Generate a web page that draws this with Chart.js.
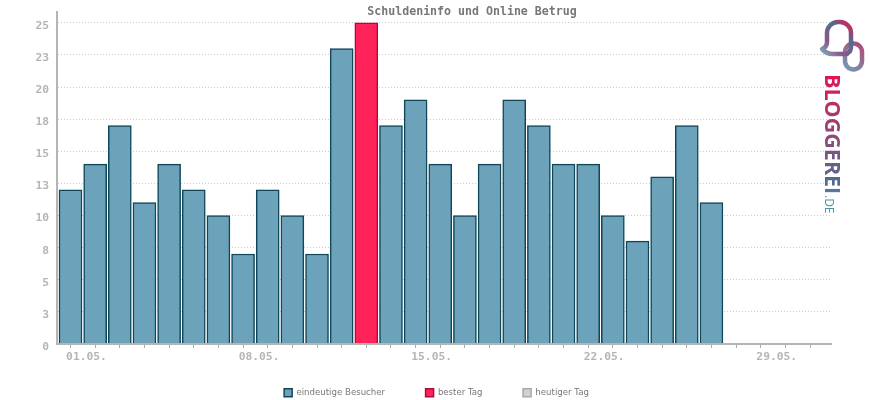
<!DOCTYPE html>
<html><head><meta charset="utf-8">
<style>html,body{margin:0;padding:0;background:#fff}canvas{display:block}</style>
<script src="https://cdn.jsdelivr.net/npm/chart.js@4"></script>
</head><body><canvas id="c" width="870" height="400"></canvas>
<script>
const titleText = "Schuldeninfo und Online Betrug";
const days = [1,2,3,4,5,6,7,8,9,10,11,12,13,14,15,16,17,18,19,20,21,22,23,24,25,26,27];
const visitors = [12,14,17,11,14,12,10,7,12,10,7,23,25,17,19,14,10,14,19,17,14,14,10,8,13,17,11];
const bestDay = 13;
const xTickDays = [1,2,3,4,5,6,7,8,9,10,11,12,13,14,15,16,17,18,19,20,21,22,23,24,25,26,27,28,29,30,31];
const xTickLabels = {1:"01.05.",8:"08.05.",15:"15.05.",22:"22.05.",29:"29.05."};
const yTicks = [0,2.5,5,7.5,10,12.5,15,17.5,20,22.5,25];
const yTickLabels = ["0","3","5","8","10","13","15","18","20","23","25"];
const legendNames = ["eindeutige Besucher","bester Tag","heutiger Tag"];
const MONO = '"DejaVu Sans Mono", monospace';

const points = days.map((d,i)=>({x:d,y:visitors[i]}));

const shiftBlocks = {
  id:'shiftBlocks',
  afterLayout(chart){
    chart.titleBlock.left += 56.5; chart.titleBlock.right += 56.5;
    chart.scales.x.bottom = 375;
    const l = chart.legend;
    l.left += 21; l.right += 21; l.top += 3; l.bottom += 3;
  }
};
const logo = {
  id:'logo',
  afterDraw(chart){
    const c = chart.ctx; c.save();
    let g = c.createLinearGradient(821,55,852,20);
    g.addColorStop(0,'#7db3c8'); g.addColorStop(0.3,'#8a5a86'); g.addColorStop(0.65,'#4f6d90'); g.addColorStop(1,'#ff0a47');
    c.lineWidth = 4.5; c.lineCap='round'; c.lineJoin='round';
    let r = c.createLinearGradient(843,70,863,45);
    r.addColorStop(0,'#6d9fb8'); r.addColorStop(1,'#b04a78');
    c.strokeStyle = r; c.beginPath(); c.roundRect(845,43.5,17,26,8.5); c.stroke();
    c.strokeStyle = g; c.beginPath();
    c.moveTo(848,53); c.quadraticCurveTo(851,51,851,47); c.lineTo(851,33);
    c.arcTo(851,22,840,22,11); c.arcTo(827,22,827,33,11);
    c.lineTo(827,42); c.quadraticCurveTo(827,47,822,49);
    c.quadraticCurveTo(826,54,833,54); c.lineTo(847,54); c.stroke();
    c.translate(824,74); c.rotate(Math.PI/2); c.textBaseline='alphabetic';
    let t = c.createLinearGradient(0,0,137,0);
    t.addColorStop(0,'#e8124f'); t.addColorStop(0.45,'#8f4a78'); t.addColorStop(0.8,'#4f6d90'); t.addColorStop(1,'#5f9ab8');
    c.fillStyle = t; c.font='bold 21.5px "Open Sans"';
    c.fillText('BLOGGEREI',0,-1);
    c.fillStyle='#4a90b0'; c.font='12px "Open Sans"';
    c.fillText('.DE',121,-1);
    c.restore();
  }
};

new Chart(document.getElementById('c'),{
  type:'bar',
  data:{datasets:[
    {label:legendNames[0],data:points.filter(p=>p.x!==bestDay),backgroundColor:'#6ca3bb',borderColor:'#0f4658',borderWidth:1.5},
    {label:legendNames[1],data:points.filter(p=>p.x===bestDay),backgroundColor:'#ff2359',borderColor:'#b2073b',borderWidth:1.5},
    {label:legendNames[2],data:[],backgroundColor:'#d2d2d2',borderColor:'#a8a8a8',borderWidth:1.5}
  ]},
  plugins:[shiftBlocks,logo],
  options:{
    responsive:false,animation:false,devicePixelRatio:1,
    layout:{padding:{left:0,right:39,top:0,bottom:-4}},
    datasets:{bar:{barThickness:23}},
    plugins:{
      tooltip:{enabled:false},
      title:{display:true,text:titleText,color:'#777',font:{family:MONO,size:11.6,weight:'bold'},padding:{top:5,bottom:-7}},
      legend:{position:'bottom',onClick:null,labels:{boxWidth:8,boxHeight:8,padding:40.5,color:'#777',font:{family:'"DejaVu Sans"',size:8.6}}}
    },
    scales:{
      x:{type:'linear',offset:false,stacked:true,min:0.452,max:31.85,
        afterFit(s){s.height=1;s.paddingLeft=0;s.paddingRight=0;s.paddingTop=0;s.paddingBottom=0;},
        afterBuildTicks(s){s.ticks=xTickDays.map(v=>({value:v}));},
        grid:{offset:false,drawOnChartArea:false,drawTicks:true,tickLength:4,tickColor:'#aaa',lineWidth:1},
        border:{color:'#b5b5b5',width:2,z:1},
        ticks:{autoSkip:false,maxRotation:0,minRotation:0,padding:2,labelOffset:16,color:'#b5b5b5',font:{family:MONO,size:11.3,weight:'bold'},
          callback:v=>xTickLabels[v]||''}
      },
      y:{stacked:true,min:0,max:25.85,
        afterBuildTicks(s){s.ticks=yTicks.map(v=>({value:v}));},
        afterFit(s){s.width=57;s.paddingTop=0;s.paddingBottom=0;s.paddingLeft=0;s.paddingRight=0;},
        grid:{color:'#ccc',lineWidth:1,drawTicks:false},
        border:{color:'#b5b5b5',width:2,dash:[1,2]},
        ticks:{padding:8,labelOffset:3,color:'#b5b5b5',font:{family:MONO,size:11.3,weight:'bold'},
          callback:v=>yTickLabels[yTicks.indexOf(v)]}
      }
    }
  }
});
</script></body></html>
